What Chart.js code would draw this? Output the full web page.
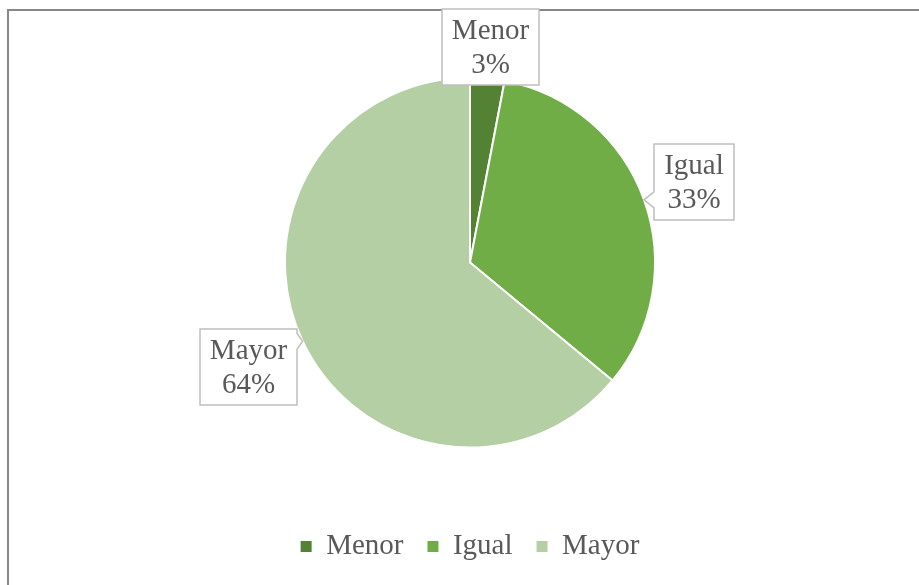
<!DOCTYPE html>
<html>
<head>
<meta charset="utf-8">
<script src="https://cdn.jsdelivr.net/npm/chart.js@4"></script>
<style>
  html, body { margin: 0; padding: 0; background: #fff; }
  #wrap { width: 919px; height: 585px; position: relative; }
</style>
</head>
<body>
<div id="wrap"><canvas id="pie"></canvas></div>
<script>
const categories = ['Menor', 'Igual', 'Mayor'];
const shares = [3, 33, 64];
const percentLabels = ['3%', '33%', '64%'];
const sliceColors = ['#548235', '#70AD47', '#B4CFA3'];

// how far beyond the rim each callout box sits (px)
const calloutGap = [31, 53, 60];

const serif = "'Liberation Serif', 'Times New Roman', serif";
const textColor = '#595959';

const frame = {
    id: 'frame',
    beforeDraw(chart) {
        const ctx = chart.ctx;
        ctx.save();
        ctx.strokeStyle = '#878787';
        ctx.lineWidth = 2;
        ctx.beginPath();
        ctx.moveTo(8, 585);
        ctx.lineTo(8, 10);
        ctx.lineTo(919, 10);
        ctx.stroke();
        ctx.restore();
    }
};

const callouts = {
    id: 'callouts',
    afterDatasetsDraw(chart) {
        const ctx = chart.ctx;
        const arcs = chart.getDatasetMeta(0).data;
        ctx.save();
        ctx.font = '29px ' + serif;
        arcs.forEach((arc, i) => {
            const p = arc.getProps(['x', 'y', 'startAngle', 'endAngle', 'outerRadius'], true);
            const mid = (p.startAngle + p.endAngle) / 2;
            const dx = Math.cos(mid), dy = Math.sin(mid);
            const ax = p.x + dx * p.outerRadius, ay = p.y + dy * p.outerRadius;
            const bx = p.x + dx * (p.outerRadius + calloutGap[i]);
            const by = p.y + dy * (p.outerRadius + calloutGap[i]);

            const lines = [categories[i], percentLabels[i]];
            const tw = Math.max(...lines.map(t => ctx.measureText(t).width));
            const w = Math.round(tw + 20), h = 76;
            const left = Math.round(bx - w / 2), top = Math.round(by - h / 2);
            const right = left + w, bottom = top + h;

            const ny = Math.min(Math.max(ay, top + 12), bottom - 12);
            ctx.beginPath();
            ctx.moveTo(left, top);
            ctx.lineTo(right, top);
            if (ax > right) {
                ctx.lineTo(right, ny - 8);
                ctx.lineTo(ax, ay);
                ctx.lineTo(right, ny + 8);
            }
            ctx.lineTo(right, bottom);
            ctx.lineTo(left, bottom);
            if (ax < left) {
                ctx.lineTo(left, ny + 8);
                ctx.lineTo(ax, ay);
                ctx.lineTo(left, ny - 8);
            }
            ctx.closePath();
            ctx.fillStyle = '#fff';
            ctx.fill();
            ctx.strokeStyle = '#BFBFBF';
            ctx.lineWidth = 1.5;
            ctx.stroke();

            ctx.fillStyle = textColor;
            ctx.textAlign = 'center';
            ctx.textBaseline = 'middle';
            ctx.fillText(lines[0], (left + right) / 2, top + 22);
            ctx.fillText(lines[1], (left + right) / 2, top + 56);
        });
        ctx.restore();
    }
};

new Chart(document.getElementById('pie'), {
    type: 'pie',
    data: {
        labels: categories,
        datasets: [{
            data: shares,
            backgroundColor: sliceColors,
            borderColor: '#ffffff',
            borderWidth: 2
        }]
    },
    options: {
        responsive: true,
        maintainAspectRatio: false,
        animation: false,
        radius: 185,
        layout: { padding: { top: 17, left: 21, right: 0, bottom: 14 } },
        plugins: {
            tooltip: { enabled: false },
            legend: {
                position: 'bottom',
                labels: {
                    boxWidth: 11,
                    boxHeight: 11,
                    padding: 24,
                    color: textColor,
                    font: { family: serif, size: 29 },
                    generateLabels(chart) {
                        const items = Chart.controllers.pie.overrides.plugins.legend.labels.generateLabels(chart);
                        items.forEach(it => { it.lineWidth = 0; it.strokeStyle = it.fillStyle; });
                        return items;
                    }
                }
            }
        }
    },
    plugins: [frame, callouts]
});
</script>
</body>
</html>
